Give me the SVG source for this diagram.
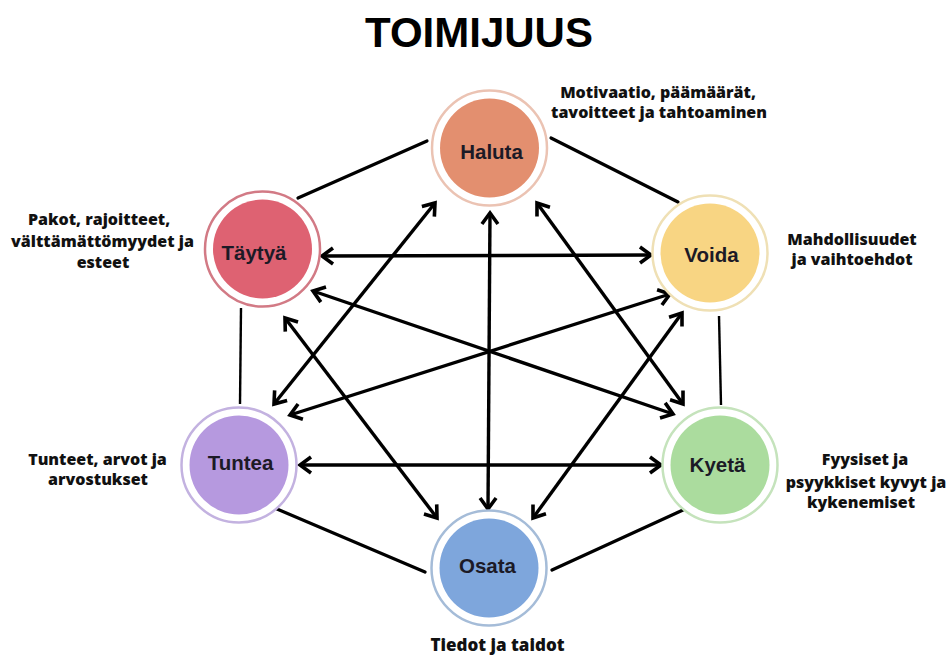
<svg xmlns="http://www.w3.org/2000/svg" width="948" height="657" viewBox="0 0 948 657">
<defs>
<style>
.title{font-family:"Liberation Sans",Arial,sans-serif;font-weight:700;font-size:42px;fill:#000;text-anchor:middle}
.lbl{font-family:"Liberation Sans",Arial,sans-serif;font-weight:700;font-size:20.5px;fill:#1c1a26;text-anchor:middle}
.note{font-family:"Open Sans","Noto Sans",sans-serif;font-weight:800;font-size:16px;fill:#111;text-anchor:middle}
.ring{fill:#fff;stroke-width:2.5}
.hex{stroke:#000;stroke-width:3.2;fill:none;stroke-linecap:round}
.hexv{stroke:#000;stroke-width:2.4;fill:none}
.arr{stroke:#000;stroke-width:3.4;fill:none;marker-start:url(#ah);marker-end:url(#ah)}
</style>
<marker id="ah" markerUnits="userSpaceOnUse" viewBox="-15 -11 18 22" refX="0" refY="0" markerWidth="18" markerHeight="22" orient="auto-start-reverse">
<path d="M-11,-8 L0,0 L-11,8" fill="none" stroke="#000" stroke-width="3.6" stroke-linejoin="miter"/>
</marker>
</defs>
<rect width="948" height="657" fill="#fff"/>
<text class="title" x="479" y="46.5">TOIMIJUUS</text>

<g id="connectors">
<line class="hex" x1="427" y1="141" x2="298" y2="198"/>
<line class="hex" x1="551" y1="138" x2="678" y2="202"/>
<line class="hexv" x1="241" y1="308" x2="240" y2="404"/>
<line class="hexv" x1="719" y1="316" x2="721" y2="405"/>
<line class="hex" x1="277" y1="509" x2="425" y2="572"/>
<line class="hex" x1="683" y1="510" x2="552" y2="570"/>

<line class="arr" x1="322" y1="256" x2="651" y2="255"/>
<line class="arr" x1="300" y1="465" x2="661" y2="465"/>
<line class="arr" x1="490" y1="213" x2="488" y2="509"/>
<line class="arr" x1="435" y1="203" x2="274" y2="404"/>
<line class="arr" x1="537" y1="203" x2="683" y2="404"/>
<line class="arr" x1="285" y1="318" x2="437" y2="518"/>
<line class="arr" x1="682" y1="313" x2="533" y2="518"/>
<line class="arr" x1="313" y1="291" x2="673" y2="414"/>
<line class="arr" x1="290" y1="415" x2="670" y2="294"/>
</g>

<g id="haluta">
<circle class="ring" cx="489.5" cy="148" r="57.5" stroke="#EBC3B3"/>
<circle cx="489.5" cy="148" r="49.5" fill="#E38F6F"/>
<text class="lbl" x="491.5" y="158.5">Haluta</text>
</g>
<g id="taytya">
<circle class="ring" cx="262.5" cy="249" r="57.5" stroke="#D27A85"/>
<circle cx="262.5" cy="249" r="49.5" fill="#DE6272"/>
<text class="lbl" x="254" y="259.5">Täytyä</text>
</g>
<g id="voida">
<circle class="ring" cx="710" cy="253" r="57.5" stroke="#EFE0B5"/>
<circle cx="710" cy="253" r="49.5" fill="#F8D583"/>
<text class="lbl" x="711.5" y="261.5">Voida</text>
</g>
<g id="tuntea">
<circle class="ring" cx="239" cy="465" r="57.5" stroke="#C3B2E0"/>
<circle cx="239" cy="465" r="49.5" fill="#B699DF"/>
<text class="lbl" x="240.5" y="469.5">Tuntea</text>
</g>
<g id="kyeta">
<circle class="ring" cx="720" cy="465" r="57.5" stroke="#C5E3BC"/>
<circle cx="720" cy="465" r="49.5" fill="#ABDC9E"/>
<text class="lbl" x="717.5" y="471.5">Kyetä</text>
</g>
<g id="osata">
<circle class="ring" cx="489" cy="568" r="57.5" stroke="#A5BCD8"/>
<circle cx="489" cy="568" r="49.5" fill="#7EA6DC"/>
<text class="lbl" x="487.5" y="573">Osata</text>
</g>

<g id="notes">
<text class="note" x="658" y="98">Motivaatio, päämäärät,</text>
<text class="note" x="659" y="118">tavoitteet ja tahtoaminen</text>
<text class="note" x="852" y="245">Mahdollisuudet</text>
<text class="note" x="852" y="265">ja vaihtoehdot</text>
<text class="note" x="99" y="225">Pakot, rajoitteet,</text>
<text class="note" x="102.5" y="246.5">välttämättömyydet ja</text>
<text class="note" x="103" y="268">esteet</text>
<text class="note" x="97.5" y="465">Tunteet, arvot ja</text>
<text class="note" x="98" y="485">arvostukset</text>
<text class="note" x="865" y="465">Fyysiset ja</text>
<text class="note" x="866" y="488">psyykkiset kyvyt ja</text>
<text class="note" x="861" y="508">kykenemiset</text>
<text class="note" x="497.5" y="651" style="font-size:17px">Tiedot ja taidot</text>
</g>
</svg>
